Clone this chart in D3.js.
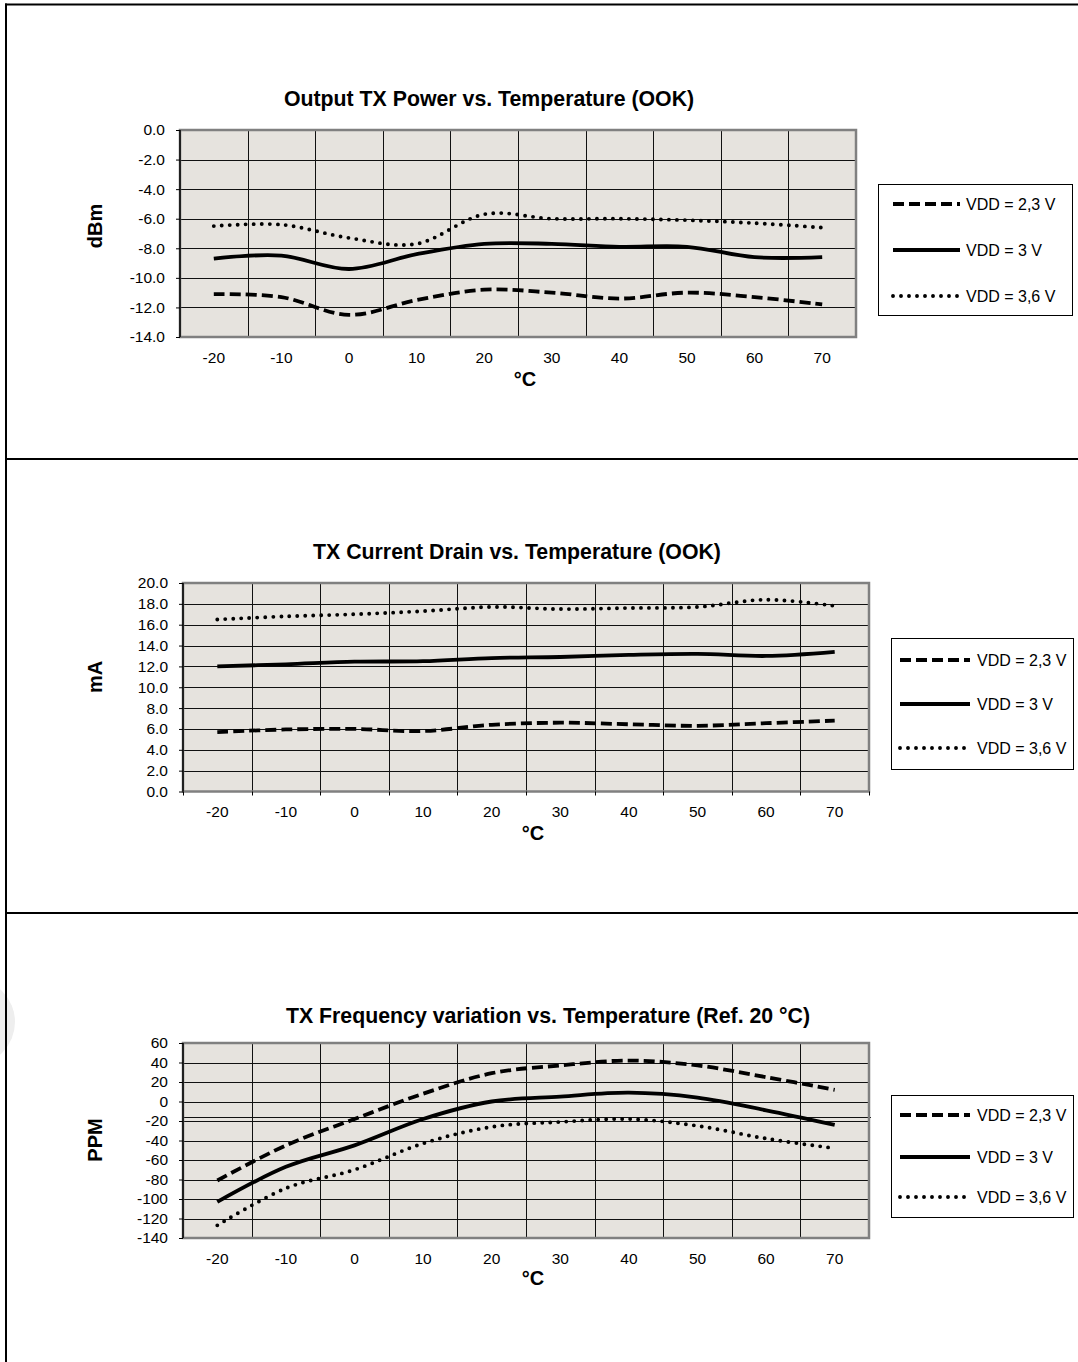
<!DOCTYPE html>
<html lang="en">
<head>
<meta charset="UTF-8">
<title>TX characteristics vs. Temperature</title>
<script src="https://d3js.org/d3.v7.min.js"></script>
<style>
  body { margin: 0; background: #fff; }
  svg { display: block; font-family: "Liberation Sans", Arial, sans-serif; }
</style>
</head>
<body>
<div id="chart"></div>
<script>
// categories (°C) and legend names
const temps = [-20, -10, 0, 10, 20, 30, 40, 50, 60, 70];
const seriesNames = ["VDD = 2,3 V", "VDD = 3 V", "VDD = 3,6 V"];

// Output TX power (dBm)
const powerVdd23 = [-11.1, -11.3, -12.5, -11.5, -10.8, -11.0, -11.4, -11.0, -11.3, -11.8];
const powerVdd3  = [-8.7, -8.5, -9.4, -8.4, -7.7, -7.7, -7.9, -7.9, -8.6, -8.6];
const powerVdd36 = [-6.5, -6.4, -7.3, -7.7, -5.7, -6.0, -6.0, -6.1, -6.3, -6.6];
const powerTicks = [0, -2, -4, -6, -8, -10, -12, -14];

// TX current drain (mA)
const currentVdd23 = [5.7, 5.95, 6.0, 5.8, 6.4, 6.6, 6.45, 6.3, 6.55, 6.8];
const currentVdd3  = [12.0, 12.2, 12.45, 12.5, 12.8, 12.9, 13.1, 13.2, 13.0, 13.4];
const currentVdd36 = [16.5, 16.8, 17.0, 17.3, 17.7, 17.5, 17.6, 17.7, 18.4, 17.8];
const currentTicks = [20, 18, 16, 14, 12, 10, 8, 6, 4, 2, 0];

// TX frequency variation (PPM)
const freqVdd23 = [-81, -45, -18, 8, 29, 37, 42, 37, 25, 12];
const freqVdd3  = [-103, -67, -45, -18, 0, 5, 9, 4, -9, -24];
const freqVdd36 = [-127, -89, -70, -43, -26, -21, -18, -25, -38, -48];
const freqTicks = [60, 40, 20, 0, -20, -40, -60, -80, -100, -120, -140];
const freqStrayLine = -15.5;

const FONT = "Liberation Sans, Arial, sans-serif";

const lineStyles = [
    { width: 3.8, dash: "11,5", cap: "butt" },
    { width: 3.8, dash: null, cap: "butt" },
    { width: 3.9, dash: "0,8", cap: "round" }
];

const panels = [
    {
        title: "Output TX Power vs. Temperature (OOK)", titleX: 489, titleY: 106,
        yLabel: "dBm", yLabelY: 226,
        series: [powerVdd23, powerVdd3, powerVdd36], ticks: powerTicks,
        fmt: d => d.toFixed(1),
        left: 180, right: 856, top: 130, bottom: 337,
        xTicks: false, xLabelY: 386,
        legend: { x: 878, y: 184, w: 194, h: 131, rows: [204, 250, 296], l1: 893, l2: 960, tx: 966 }
    },
    {
        title: "TX Current Drain vs. Temperature (OOK)", titleX: 517, titleY: 559,
        yLabel: "mA", yLabelY: 677,
        series: [currentVdd23, currentVdd3, currentVdd36], ticks: currentTicks,
        fmt: d => d.toFixed(1),
        left: 183, right: 869, top: 583, bottom: 791.5,
        xTicks: true, xLabelY: 840,
        legend: { x: 891, y: 638, w: 182, h: 131, rows: [660, 704, 748], l1: 900, l2: 970, tx: 977 }
    },
    {
        title: "TX Frequency variation vs. Temperature (Ref. 20 °C)", titleX: 548, titleY: 1023,
        yLabel: "PPM", yLabelY: 1140,
        series: [freqVdd23, freqVdd3, freqVdd36], ticks: freqTicks,
        fmt: d => String(d),
        left: 183, right: 869, top: 1043, bottom: 1238,
        xTicks: false, xLabelY: 1285, stray: freqStrayLine,
        legend: { x: 891, y: 1095, w: 182, h: 122, rows: [1115, 1157, 1197], l1: 900, l2: 970, tx: 977 }
    }
];

const svg = d3.select("#chart").append("svg")
    .attr("width", 1078)
    .attr("height", 1362);

// faint smudge at the left edge of the bottom panel
svg.append("circle").attr("cx", -28).attr("cy", 1022).attr("r", 43).attr("fill", "#eeeeee");

// panel frame
const frame = svg.append("g").attr("stroke", "#000").attr("stroke-width", 2);
frame.append("line").attr("x1", 5).attr("x2", 1078).attr("y1", 4.5).attr("y2", 4.5);
frame.append("line").attr("x1", 5).attr("x2", 1078).attr("y1", 459).attr("y2", 459);
frame.append("line").attr("x1", 5).attr("x2", 1078).attr("y1", 913).attr("y2", 913);
frame.append("line").attr("x1", 6).attr("x2", 6).attr("y1", 3.5).attr("y2", 1362);

panels.forEach(drawPanel);

function drawPanel(p) {
    const g = svg.append("g");
    const x = d3.scaleBand().domain(temps).range([p.left, p.right]);
    const y = d3.scaleLinear().domain(d3.extent(p.ticks)).range([p.bottom, p.top]);
    const [yMin, yMax] = d3.extent(p.ticks);

    g.append("rect")
        .attr("x", p.left).attr("y", p.top)
        .attr("width", p.right - p.left).attr("height", p.bottom - p.top)
        .attr("fill", "#e6e3de");

    // gridlines
    g.selectAll(".hgrid")
        .data(p.ticks.filter(t => t !== yMin && t !== yMax))
        .enter().append("line")
        .attr("x1", p.left).attr("x2", p.right)
        .attr("y1", d => Math.round(y(d)) + 0.5).attr("y2", d => Math.round(y(d)) + 0.5)
        .attr("stroke", "#111").attr("stroke-width", 1);

    g.selectAll(".vgrid")
        .data(temps.slice(1))
        .enter().append("line")
        .attr("x1", d => Math.round(x(d)) + 0.5).attr("x2", d => Math.round(x(d)) + 0.5)
        .attr("y1", p.top).attr("y2", p.bottom)
        .attr("stroke", "#111").attr("stroke-width", 1);

    if (p.stray !== undefined) {
        g.append("line")
            .attr("x1", p.left).attr("x2", p.right + 2)
            .attr("y1", Math.round(y(p.stray)) + 0.5).attr("y2", Math.round(y(p.stray)) + 0.5)
            .attr("stroke", "#111").attr("stroke-width", 1);
    }

    g.append("rect")
        .attr("x", p.left).attr("y", p.top)
        .attr("width", p.right - p.left).attr("height", p.bottom - p.top)
        .attr("fill", "none").attr("stroke", "#808080").attr("stroke-width", 2.5);

    g.append("line")
        .attr("x1", p.left).attr("x2", p.left)
        .attr("y1", p.top).attr("y2", p.bottom)
        .attr("stroke", "#000").attr("stroke-width", 1.5);

    // y axis
    g.append("g")
        .attr("transform", `translate(${p.left},0)`)
        .call(d3.axisLeft(y).tickValues(p.ticks).tickSize(4).tickPadding(11).tickFormat(p.fmt))
        .call(a => a.select(".domain").remove())
        .attr("font-size", 15.5).attr("font-family", FONT)
        .call(a => a.selectAll("text").attr("fill", "#000"));

    // x axis labels
    g.append("g")
        .attr("transform", `translate(0,${p.bottom})`)
        .call(d3.axisBottom(x).tickSize(0).tickPadding(14.5).tickFormat(d => String(d)))
        .call(a => a.select(".domain").remove())
        .attr("font-size", 15.5).attr("font-family", FONT)
        .call(a => a.selectAll("text").attr("fill", "#000"));

    if (p.xTicks) {
        g.selectAll(".xtick")
            .data(temps.map(t => x(t)).concat([p.right]))
            .enter().append("line")
            .attr("x1", d => Math.round(d) + 0.5).attr("x2", d => Math.round(d) + 0.5)
            .attr("y1", p.bottom).attr("y2", p.bottom + 4)
            .attr("stroke", "#000");
    }

    // series
    const line = d3.line()
        .x((d, i) => x(temps[i]) + x.bandwidth() / 2)
        .y(d => y(d))
        .curve(d3.curveCardinal.tension(0));

    p.series.forEach((values, i) => {
        const s = lineStyles[i];
        g.append("path")
            .attr("d", line(values))
            .attr("fill", "none")
            .attr("stroke", "#000")
            .attr("stroke-width", s.width)
            .attr("stroke-linecap", s.cap)
            .attr("stroke-dasharray", s.dash);
    });

    // titles
    g.append("text")
        .attr("x", p.titleX).attr("y", p.titleY)
        .attr("text-anchor", "middle")
        .attr("font-size", 21.3).attr("font-weight", "bold")
        .text(p.title);

    g.append("text")
        .attr("x", (p.left + p.right) / 2 + 7).attr("y", p.xLabelY)
        .attr("text-anchor", "middle")
        .attr("font-size", 20).attr("font-weight", "bold")
        .text("°C");

    g.append("text")
        .attr("transform", `translate(102,${p.yLabelY}) rotate(-90)`)
        .attr("text-anchor", "middle")
        .attr("font-size", 20).attr("font-weight", "bold")
        .text(p.yLabel);

    // legend
    const L = p.legend;
    const lg = g.append("g");
    lg.append("rect")
        .attr("x", L.x + 0.5).attr("y", L.y + 0.5)
        .attr("width", L.w).attr("height", L.h)
        .attr("fill", "#fff").attr("stroke", "#000").attr("stroke-width", 1);

    seriesNames.forEach((name, i) => {
        const s = lineStyles[i];
        lg.append("line")
            .attr("x1", L.l1).attr("x2", L.l2)
            .attr("y1", L.rows[i]).attr("y2", L.rows[i])
            .attr("stroke", "#000")
            .attr("stroke-width", s.width)
            .attr("stroke-linecap", s.cap)
            .attr("stroke-dasharray", s.dash);
        lg.append("text")
            .attr("x", L.tx).attr("y", L.rows[i])
            .attr("dy", "0.36em")
            .attr("font-size", 16)
            .text(name);
    });
}
</script>
</body>
</html>
